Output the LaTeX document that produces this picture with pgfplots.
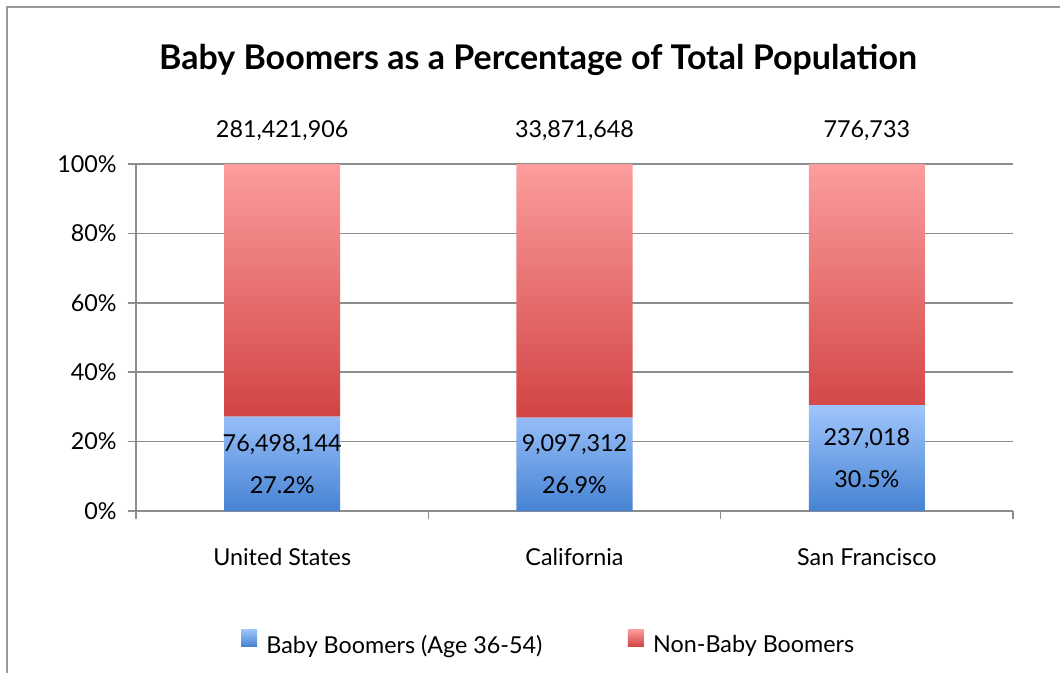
\documentclass[border=0pt]{standalone}
\usepackage{pgfplots}
\pgfplotsset{compat=1.18}
\usepackage{pgfplotstable}
\usepackage{fontspec}
\setmainfont{Lato}

\definecolor{bluetop}{HTML}{9FC5FC}
\definecolor{bluebot}{HTML}{4683D3}
\definecolor{redtop}{HTML}{FC9D9D}
\definecolor{redbot}{HTML}{D24343}
\definecolor{gridc}{HTML}{8C8C8C}
\definecolor{framec}{HTML}{9A9A9A}

\pgfplotstableread{
x boom cnt
0 27.2 76,498,144
1 26.9 9,097,312
2 30.5 237,018
}\boomtab
\pgfplotstableread{
x rest total
0 72.8 281,421,906
1 73.1 33,871,648
2 69.5 776,733
}\resttab

\newcommand\lblfont{\fontsize{17.5}{31.5}\selectfont}

\begin{document}
\begin{tikzpicture}
\useasboundingbox (-102pt,-120.75pt) rectangle (693pt,383.25pt);
\draw[framec, line width=1.3pt] (-96.75pt,-125pt) -- (-96.75pt,378pt) -- (700pt,378pt);
\begin{axis}[
  at={(0pt,0pt)}, anchor=south west,
  scale only axis, width=657.75pt, height=260.25pt,
  ybar stacked, bar width=0.397,
  xmin=-0.5, xmax=2.5, ymin=0, ymax=100,
  axis x line*=bottom, axis y line*=left,
  axis line style={gridc, line width=1.1pt},
  ytick={0,20,...,100},
  yticklabel={\pgfmathprintnumber{\tick}\%},
  yticklabel style={xshift=-5pt},
  ymajorgrids, grid style={gridc, line width=1.1pt},
  tick align=outside, major tick length=6pt,
  tick style={gridc, line width=1.1pt},
  xtick={-0.5,0.5,1.5,2.5}, xticklabels={},
  extra x ticks={0,1,2},
  extra x tick labels={United States,California,San Francisco},
  extra x tick style={major tick length=0pt, grid=none,
     xticklabel style={anchor=base, inner sep=0pt, yshift=-40.5pt}},
  /pgf/number format/assume math mode=true,
  tick label style={font=\lblfont},
  clip=false,
  legend columns=2,
  legend style={at={(0.4709,-0.382)}, anchor=center, draw=none, fill=none,
    font=\lblfont,
    /tikz/every odd column/.append style={column sep=5pt},
    /tikz/every even column/.append style={column sep=62pt}},
]
\addplot[draw=none, top color=bluetop, bottom color=bluebot,
  point meta=explicit symbolic,
  visualization depends on={\thisrow{boom} \as \bpct},
  nodes near coords={\pgfplotspointmeta\\\pgfmathprintnumber[fixed,precision=1,fixed zerofill]{\bpct}\%},
  every node near coord/.append style={anchor=center, align=center, font=\lblfont},
  legend image code/.code={\shade[top color=bluetop, bottom color=bluebot] (0pt,-1pt) rectangle (12pt,11.75pt);},
] table[x=x, y=boom, meta=cnt] {\boomtab};
\addlegendentry{Baby Boomers (Age 36-54)}
\addplot[draw=none, top color=redtop, bottom color=redbot,
  point meta=explicit symbolic,
  visualization depends on={\thisrow{rest}/2 \as \halfr},
  nodes near coords={\pgfplotspointmeta},
  every node near coord/.append style={anchor=base, inner sep=0pt, font=\lblfont,
     shift={(axis direction cs:0,\halfr)}, yshift=20.25pt},
  legend image code/.code={\shade[top color=redtop, bottom color=redbot] (0pt,-1pt) rectangle (12pt,11.75pt);},
] table[x=x, y=rest, meta=total] {\resttab};
\addlegendentry{Non-Baby Boomers}
\end{axis}
\node[anchor=base, font=\bfseries\fontsize{25.5}{29}\selectfont] at (301.5pt,330.75pt)
  {Baby Boomers as a Percentage of Total Population};
\end{tikzpicture}
\end{document}
